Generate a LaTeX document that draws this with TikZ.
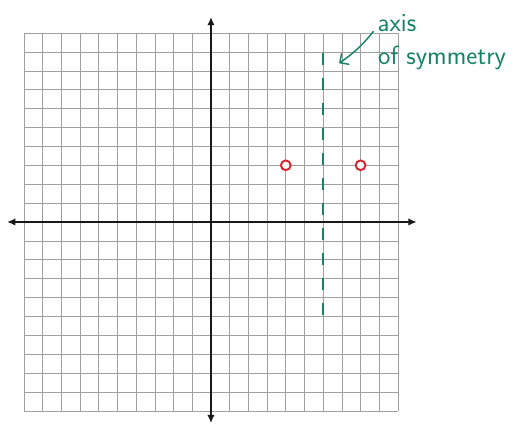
\documentclass[tikz,border=0pt]{standalone}
\usepackage{tikz}
\usetikzlibrary{arrows.meta, positioning, calc}
\definecolor{symGreen}{RGB}{24,130,102}
\definecolor{ptRed}{RGB}{218,38,46}
\definecolor{gridInk}{RGB}{160,160,160}

\begin{document}
\begin{tikzpicture}[x=0.5cm,y=0.505cm,
  gridline/.style={draw=gridInk,line width=0.5pt,xstep=0.5cm,ystep=0.505cm},
  axisline/.style={{Latex[length=2.2mm,width=2mm]}-{Latex[length=2.2mm,width=2mm]},
                   line width=1.8pt,draw=black!90},
  symline/.style={draw=symGreen,line width=1.3pt,dash pattern=on 9pt off 10pt},
  ptdot/.style={circle,draw=ptRed,line width=1.5pt,fill=white,inner sep=0pt,
                minimum size=2.6mm},
  hand/.style={font=\sffamily\fontsize{20}{23}\selectfont,text=symGreen,
               inner sep=0pt,anchor=base west},
  note/.style={-{Straight Barb[length=1.8mm,width=3.6mm]},line width=1.1pt,
               draw=symGreen}]

\useasboundingbox (-11.28,-10.74) rectangle (16.15,11.75);

% ===== grid paper =====
\draw[gridline] (-10,-10) grid (10,10);

% ===== axes =====
\coordinate (xL) at (-10.9,0);
\coordinate (xR) at (11.0,0);
\coordinate (yB) at (0,-10.65);
\coordinate (yT) at (0,10.85);
\draw[axisline] (xL) -- (xR);
\draw[axisline] (yB) -- (yT);

% ===== axis of symmetry, x = 6 =====
\coordinate (symTop) at (6,8.95);
\coordinate (symBot) at (6,-5);
\draw[symline] (symTop) -- (symBot);

% Points mirrored about it
\node[ptdot] (pA) at (4,3) {};
\node[ptdot] (pB) at (8,3) {};

% ===== handwritten note =====
\node[hand] (lblAxis) at (8.9,10.1) {axis};
\node[hand] (lblSym) at (8.93,8.35) {of symmetry};
\coordinate (symTip) at (6.85,8.4);
\draw[note] ($(lblAxis.base west)+(-0.2,0)$) to[bend left=8] (symTip);
\end{tikzpicture}
\end{document}
